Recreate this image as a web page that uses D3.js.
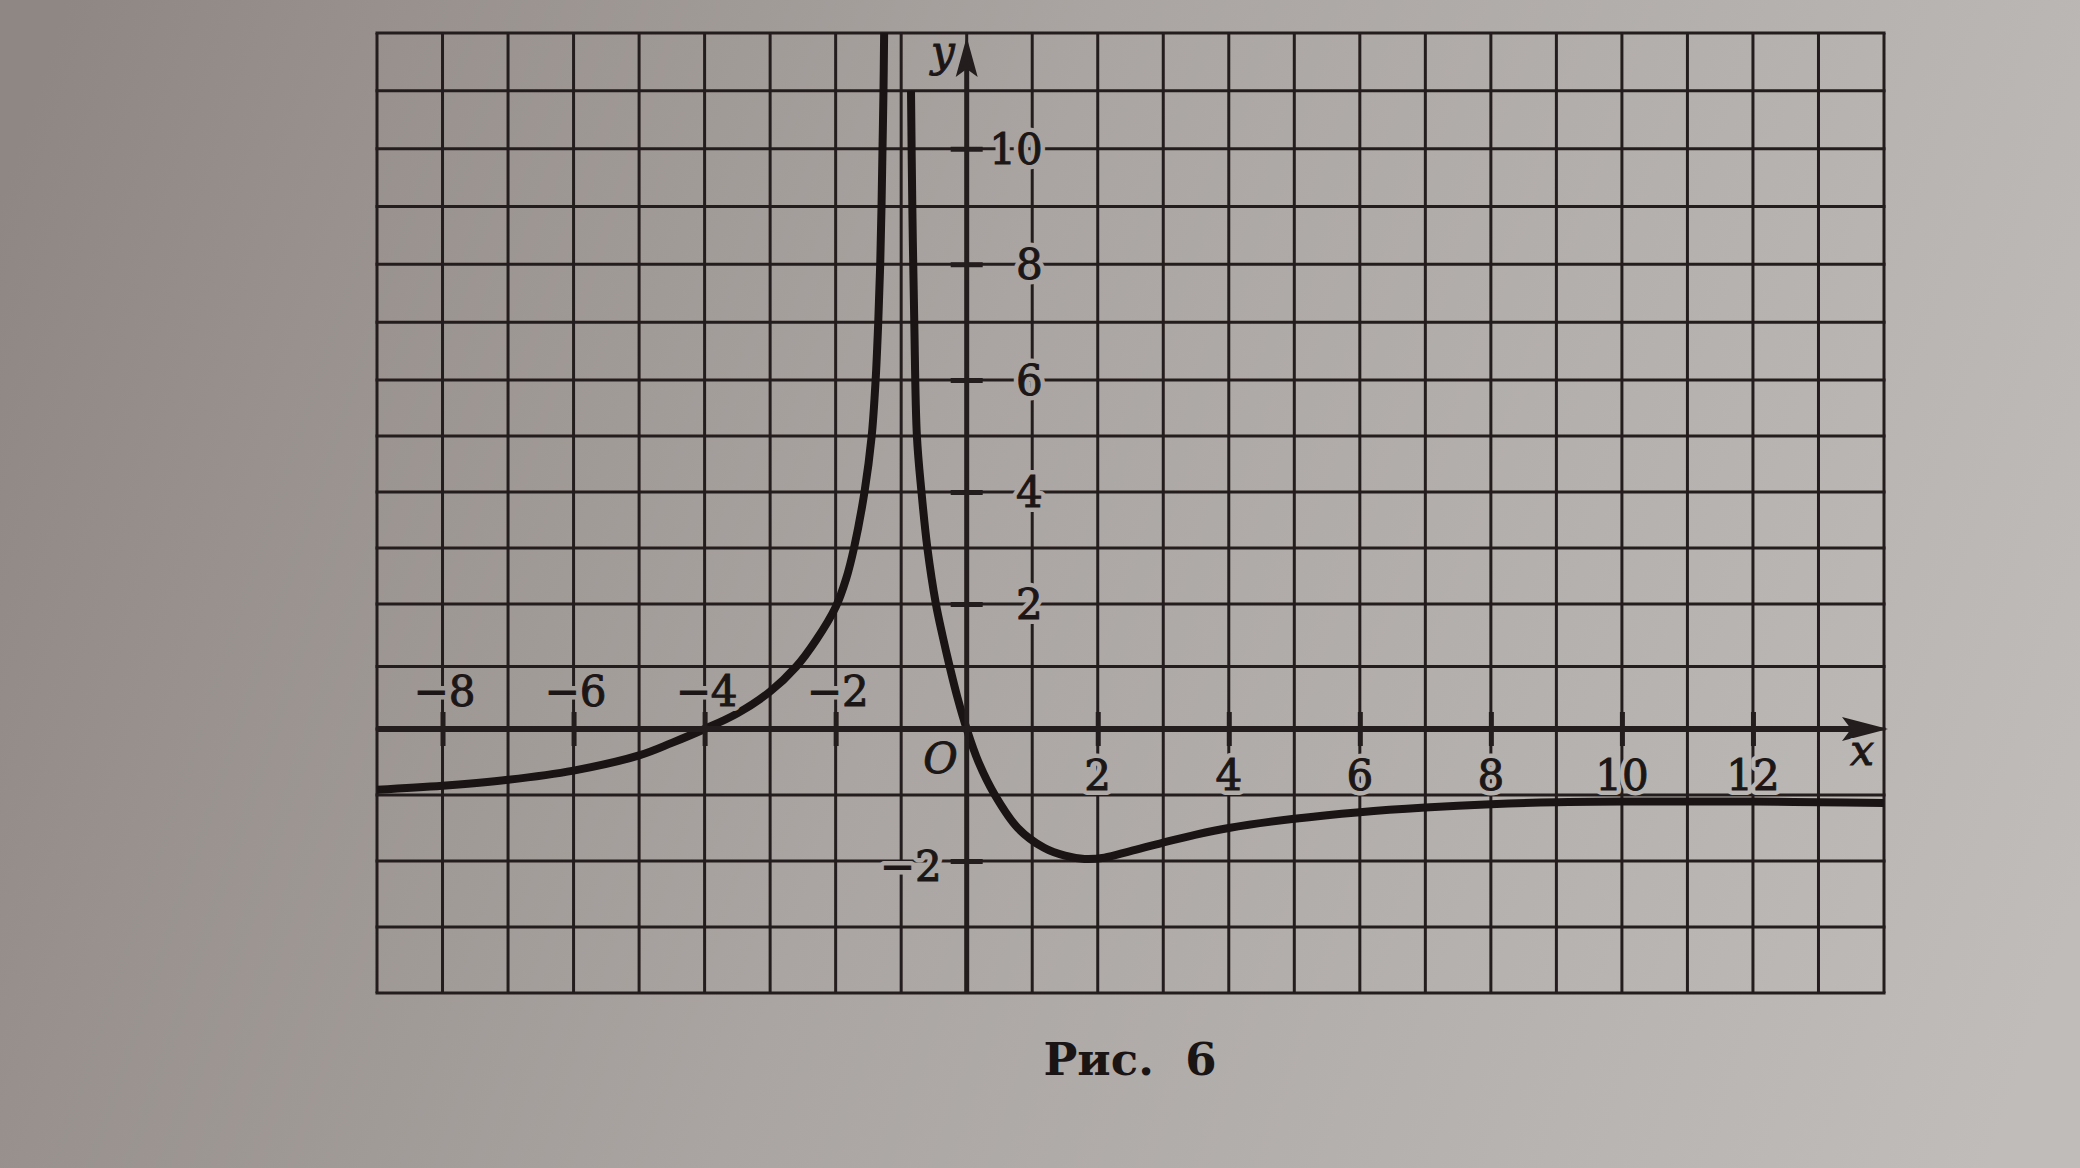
<!DOCTYPE html>
<html>
<head>
<meta charset="utf-8">
<script src="https://cdn.jsdelivr.net/npm/d3@7"></script>
<style>
  html, body { margin: 0; padding: 0; background: #a9a4a1; }
  svg { display: block; }
</style>
</head>
<body>
<div id="chart"></div>
<script>
// ---- data ----
const xDomain = [-9, 14];
const yDomain = [-4, 12];
const xTickValues = [-8, -6, -4, -2, 2, 4, 6, 8, 10, 12];
const yTickValues = [-2, 2, 4, 6, 8, 10];

// left branch (x < -1), rising to the vertical asymptote
const leftX = [-9, -8, -7, -6, -5, -4.5, -4, -3.5, -3, -2.6, -2.3, -2, -1.84, -1.72, -1.56, -1.45, -1.39, -1.35, -1.32, -1.3, -1.285, -1.27, -1.26];
const leftY = [-0.92, -0.86, -0.77, -0.63, -0.4, -0.21, 0, 0.25, 0.6, 1, 1.42, 1.95, 2.45, 3, 4, 5, 6, 7, 8, 9, 10, 11, 12];

// right branch (x > -1)
const rightX = [-0.85, -0.83, -0.8, -0.76, -0.69, -0.6, -0.47, -0.37, -0.26, -0.14, 0, 0.18, 0.43, 0.78, 1.18, 1.5, 1.8, 2.1, 2.5, 3, 3.5, 4, 5, 6, 7, 8, 9, 10, 11, 12, 13, 14];
const rightY = [11, 9, 7, 5, 4, 3, 2, 1.5, 1, 0.5, 0, -0.5, -1, -1.5, -1.8, -1.92, -1.97, -1.95, -1.85, -1.72, -1.6, -1.5, -1.36, -1.26, -1.19, -1.14, -1.11, -1.1, -1.1, -1.1, -1.11, -1.12];

const caption = "Рис.  6";

// ---- drawing ----
const W = 2080, H = 1168;
const ink = "#241d1d";

const svg = d3.select("#chart").append("svg")
  .attr("width", W).attr("height", H)
  .attr("viewBox", `0 0 ${W} ${H}`);

const defs = svg.append("defs");
const bg = defs.append("linearGradient").attr("id", "paper")
  .attr("gradientUnits", "userSpaceOnUse")
  .attr("x1", 0).attr("y1", 200).attr("x2", W).attr("y2", 900);
bg.append("stop").attr("offset", "0").attr("stop-color", "#8f8784");
bg.append("stop").attr("offset", "0.45").attr("stop-color", "#aaa5a2");
bg.append("stop").attr("offset", "1").attr("stop-color", "#bfbcb9");

svg.append("rect").attr("width", W).attr("height", H).attr("fill", "url(#paper)");

const x = d3.scaleLinear().domain(xDomain).range([377, 1884]);
// piecewise scale following the printed page (rows are slightly taller near the bottom)
const y = d3.scaleLinear().domain([-4, 0, 2, 6, 12]).range([993, 729, 604, 380, 33]);

// grid
const grid = svg.append("g").attr("stroke", ink).attr("stroke-width", 3);
grid.selectAll("line.v").data(d3.range(xDomain[0], xDomain[1] + 1)).join("line")
  .attr("class", "v")
  .attr("x1", d => x(d)).attr("x2", d => x(d))
  .attr("y1", y(yDomain[0])).attr("y2", y(yDomain[1]));
grid.selectAll("line.h").data(d3.range(yDomain[0], yDomain[1] + 1)).join("line")
  .attr("class", "h")
  .attr("y1", d => y(d)).attr("y2", d => y(d))
  .attr("x1", x(xDomain[0]) - 1.5).attr("x2", x(xDomain[1]) + 1.5);

// curve
const line = d3.line().x(d => x(d[0])).y(d => y(d[1])).curve(d3.curveCatmullRom.alpha(0.5));
const curveG = svg.append("g").attr("fill", "none").attr("stroke", "#1a1414")
  .attr("stroke-width", 8).attr("stroke-linejoin", "round").attr("stroke-linecap", "butt");
curveG.append("path").attr("d", line(d3.zip(leftX, leftY)));
curveG.append("path").attr("d", line(d3.zip(rightX, rightY)));

// x axis
const x0 = x(0), y0 = y(0);
const xAxis = d3.axisBottom(x).tickValues(xTickValues).tickSize(0).tickFormat("");
const gx = svg.append("g").attr("transform", `translate(0,${y0})`).call(xAxis);
gx.select(".domain").remove();
gx.append("line").attr("x1", x(xDomain[0])).attr("x2", x(xDomain[1]) - 30)
  .attr("stroke", ink).attr("stroke-width", 6);
gx.selectAll(".tick line").attr("y1", -17).attr("y2", 17)
  .attr("stroke", ink).attr("stroke-width", 5);
gx.append("path")
  .attr("d", `M${x(xDomain[1]) + 4},0 L${x(xDomain[1]) - 42},-12 L${x(xDomain[1]) - 33},0 L${x(xDomain[1]) - 42},12 Z`)
  .attr("fill", ink);

// y axis
const yAxis = d3.axisLeft(y).tickValues(yTickValues).tickSize(0).tickFormat("");
const gy = svg.append("g").attr("transform", `translate(${x0},0)`).call(yAxis);
gy.select(".domain").remove();
gy.append("line").attr("y1", y(yDomain[0])).attr("y2", y(yDomain[1]) + 30)
  .attr("stroke", ink).attr("stroke-width", 5);
gy.selectAll(".tick line").attr("x1", -16).attr("x2", 16)
  .attr("stroke", ink).attr("stroke-width", 5);
gy.append("path")
  .attr("d", `M0,${y(yDomain[1]) + 4} L-11,${y(yDomain[1]) + 44} L0,${y(yDomain[1]) + 36} L11,${y(yDomain[1]) + 44} Z`)
  .attr("fill", ink);

// labels: a paper-coloured halo layer that breaks the grid lines, then the ink layer
const labelLayer = svg.append("g");
function addLabel(tx, ty, str, anchor, italic) {
  [true, false].forEach(isHalo => {
    const t = labelLayer.append("text")
      .attr("x", tx).attr("y", ty)
      .attr("text-anchor", anchor)
      .attr("font-family", "'DejaVu Serif', 'Liberation Serif', serif")
      .attr("font-size", 42)
      .attr("font-style", italic ? "italic" : "normal")
      .text(str);
    if (isHalo) {
      t.attr("fill", "url(#paper)").attr("stroke", "url(#paper)")
       .attr("stroke-width", 10).attr("stroke-linejoin", "round");
    } else {
      t.attr("fill", "#1c1616").attr("stroke", "#1c1616").attr("stroke-width", 1);
    }
  });
}
const fmt = d => (d < 0 ? "\u2212" : "") + Math.abs(d);

xTickValues.forEach(d => {
  addLabel(x(d) + (d < 0 ? 2 : 0), d < 0 ? y0 - 23 : y0 + 61, fmt(d), "middle", false);
});
yTickValues.forEach(d => {
  addLabel(d < 0 ? x0 - 25 : x0 + 76, d < 0 ? y(d) + 20 : y(d) + 15, fmt(d), "end", false);
});
addLabel(x0 - 9, y0 + 44, "O", "end", true);
addLabel(x0 - 12, y(yDomain[1]) + 33, "y", "end", true);
addLabel(x(xDomain[1]) - 22, y0 + 36, "x", "middle", true);

// caption
svg.append("text")
  .attr("x", 1130).attr("y", 1075)
  .attr("text-anchor", "middle")
  .attr("font-family", "'DejaVu Serif', 'Liberation Serif', serif")
  .attr("font-weight", "bold").attr("font-size", 45)
  .attr("fill", "#1a1414")
  .style("white-space", "pre")
  .text(caption);
</script>
</body>
</html>
